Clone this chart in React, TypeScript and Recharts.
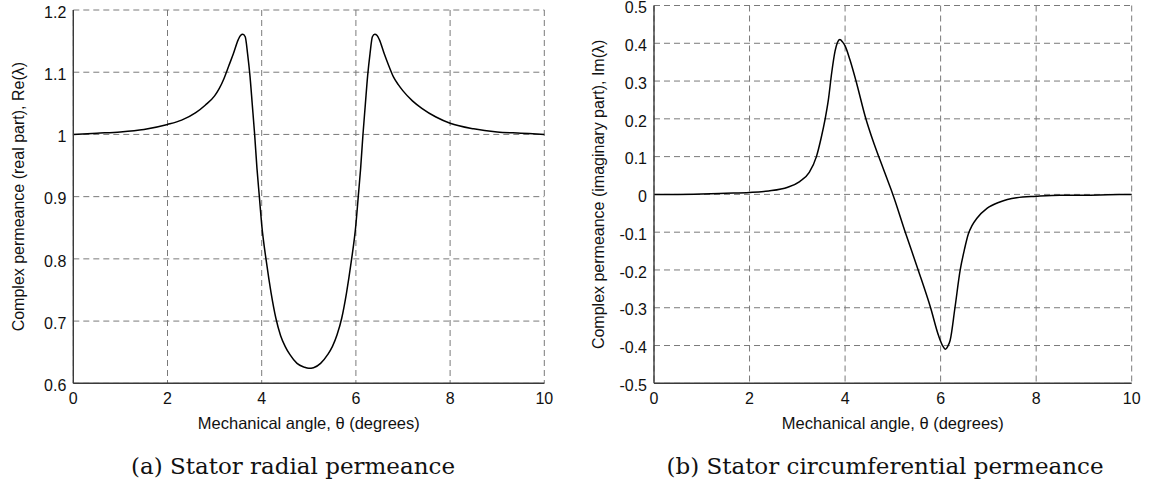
import React from "react";
import {
  LineChart,
  Line,
  XAxis,
  YAxis,
  CartesianGrid,
} from "recharts";

// angle ticks shared by both panels
const angleTicks = [0, 2, 4, 6, 8, 10];

// (a) real part
const reAngle = [
  0, 0.5, 1, 1.5, 2, 2.3, 2.6, 2.8, 3, 3.1, 3.2, 3.3, 3.4, 3.5, 3.55, 3.6,
  3.65, 3.7, 3.75, 3.8, 3.85, 3.9, 3.95, 4, 4.1, 4.2, 4.3, 4.4, 4.5, 4.6, 4.75,
  4.9, 5, 5.1, 5.25, 5.4, 5.5, 5.6, 5.7, 5.8, 5.9, 6, 6.05, 6.1, 6.15, 6.2,
  6.25, 6.3, 6.35, 6.4, 6.45, 6.5, 6.6, 6.7, 6.8, 6.9, 7, 7.2, 7.4, 7.7, 8,
  8.5, 9, 9.5, 10,
];
const reValue = [
  1.0, 1.002, 1.004, 1.008, 1.016, 1.023, 1.035, 1.047, 1.062, 1.074, 1.09,
  1.11, 1.13, 1.152, 1.159, 1.161, 1.157, 1.13, 1.095, 1.048, 1.0, 0.945, 0.9,
  0.855, 0.795, 0.745, 0.705, 0.677, 0.659, 0.646, 0.632, 0.626, 0.624, 0.625,
  0.632, 0.646, 0.659, 0.678, 0.705, 0.745, 0.795, 0.855, 0.9, 0.945, 1.0,
  1.048, 1.095, 1.13, 1.157, 1.161, 1.159, 1.152, 1.13, 1.11, 1.092, 1.08,
  1.07, 1.054, 1.042, 1.028, 1.018, 1.009, 1.004, 1.002, 1.0,
];
const reTicks = [0.6, 0.7, 0.8, 0.9, 1, 1.1, 1.2];

// (b) imaginary part
const imAngle = [
  0, 0.5, 1, 1.5, 2, 2.4, 2.8, 3.05, 3.25, 3.4, 3.5, 3.58, 3.65, 3.72, 3.79,
  3.84, 3.89, 3.95, 4, 4.1, 4.24, 4.42, 4.59, 4.69, 4.8, 4.9, 5, 5.26, 5.53,
  5.79, 5.96, 6.04, 6.1, 6.15, 6.2, 6.3, 6.41, 6.5, 6.58, 6.66, 6.76, 6.97,
  7.24, 7.59, 8, 8.5, 9, 9.5, 10,
];
const imValue = [
  0, 0, 0.001, 0.003, 0.005, 0.009, 0.019, 0.034, 0.058, 0.1, 0.15, 0.198,
  0.25, 0.322, 0.379, 0.402, 0.41, 0.403, 0.393, 0.357, 0.295, 0.207, 0.14,
  0.105, 0.068, 0.034, 0, -0.1, -0.2, -0.3, -0.375, -0.4, -0.41, -0.402,
  -0.386, -0.3, -0.2, -0.145, -0.105, -0.082, -0.063, -0.037, -0.02, -0.009,
  -0.005, -0.002, -0.002, -0.001, 0,
];
const imTicks = [-0.5, -0.4, -0.3, -0.2, -0.1, 0, 0.1, 0.2, 0.3, 0.4, 0.5];

const reData = reAngle.map((a, i) => ({ angle: a, value: reValue[i] }));
const imData = imAngle.map((a, i) => ({ angle: a, value: imValue[i] }));

const font = "'Liberation Sans', Arial, sans-serif";
const axisColor = "#3a3a3a";
const fmt = (v: number) => String(+v.toFixed(1));

interface PanelProps {
  data: { angle: number; value: number }[];
  yTicks: number[];
  yLabel: string;
  width: number;
  margin: { top: number; right: number; left: number; bottom: number };
  labelOffset: number;
}

function Panel({ data, yTicks, yLabel, width, margin, labelOffset }: PanelProps) {
  return (
    <LineChart width={width} height={440} data={data} margin={margin}>
      <CartesianGrid strokeDasharray="6 4" stroke="#7a7a7a" strokeWidth={1} />
      <XAxis
        dataKey="angle"
        type="number"
        domain={[0, 10]}
        ticks={angleTicks}
        interval={0}
        height={50}
        tickSize={0}
        tickMargin={9}
        stroke={axisColor}
        strokeWidth={1.4}
        tick={{ fill: "#111", fontSize: 16, fontFamily: font }}
        label={{
          value: "Mechanical angle, θ (degrees)",
          position: "insideBottom",
          offset: 4,
          style: { fill: "#111", fontSize: 16.5, fontFamily: font },
        }}
      />
      <XAxis
        xAxisId="top"
        dataKey="angle"
        type="number"
        domain={[0, 10]}
        orientation="top"
        height={0}
        tick={false}
        stroke={axisColor}
        strokeWidth={1.4}
      />
      <YAxis
        type="number"
        domain={[yTicks[0], yTicks[yTicks.length - 1]]}
        ticks={yTicks}
        interval={0}
        width={50}
        tickSize={0}
        tickMargin={7}
        tickFormatter={fmt}
        stroke={axisColor}
        strokeWidth={1.4}
        tick={{ fill: "#111", fontSize: 16, fontFamily: font, dy: 2 }}
        label={{
          value: yLabel,
          angle: -90,
          position: "insideLeft",
          offset: labelOffset,
          style: {
            textAnchor: "middle",
            fill: "#111",
            fontSize: 16,
            fontFamily: font,
          },
        }}
      />
      <YAxis
        yAxisId="right"
        orientation="right"
        domain={[yTicks[0], yTicks[yTicks.length - 1]]}
        width={0}
        tick={false}
        stroke={axisColor}
        strokeWidth={1.4}
      />
      <Line
        type="monotone"
        dataKey="value"
        stroke="#000"
        strokeWidth={1.5}
        dot={false}
        isAnimationActive={false}
      />
    </LineChart>
  );
}

export default function App() {
  return (
    <div
      style={{
        position: "absolute",
        left: 0,
        top: 0,
        width: 1150,
        height: 484,
        background: "#fff",
      }}
    >
      <div style={{ position: "absolute", left: 0, top: 0 }}>
        <Panel
          data={reData}
          yTicks={reTicks}
          yLabel="Complex permeance (real part), Re(λ)"
          width={560}
          margin={{ top: 10, right: 15.7, left: 23.3, bottom: 6.7 }}
          labelOffset={-5}
        />
      </div>
      <div style={{ position: "absolute", left: 580, top: 0 }}>
        <Panel
          data={imData}
          yTicks={imTicks}
          yLabel="Complex permeance (imaginary part), Im(λ)"
          width={570}
          margin={{ top: 5.5, right: 18.3, left: 24, bottom: 6.7 }}
          labelOffset={-6}
        />
      </div>
      <svg
        width={1150}
        height={484}
        style={{ position: "absolute", left: 0, top: 0, pointerEvents: "none" }}
      >
        <text
          x={293}
          y={474}
          textAnchor="middle"
          fontFamily="'DejaVu Serif', serif"
          fontSize={23}
          fill="#111"
        >
          (a) Stator radial permeance
        </text>
        <text
          x={885}
          y={474}
          textAnchor="middle"
          fontFamily="'DejaVu Serif', serif"
          fontSize={23}
          fill="#111"
        >
          (b) Stator circumferential permeance
        </text>
      </svg>
    </div>
  );
}
